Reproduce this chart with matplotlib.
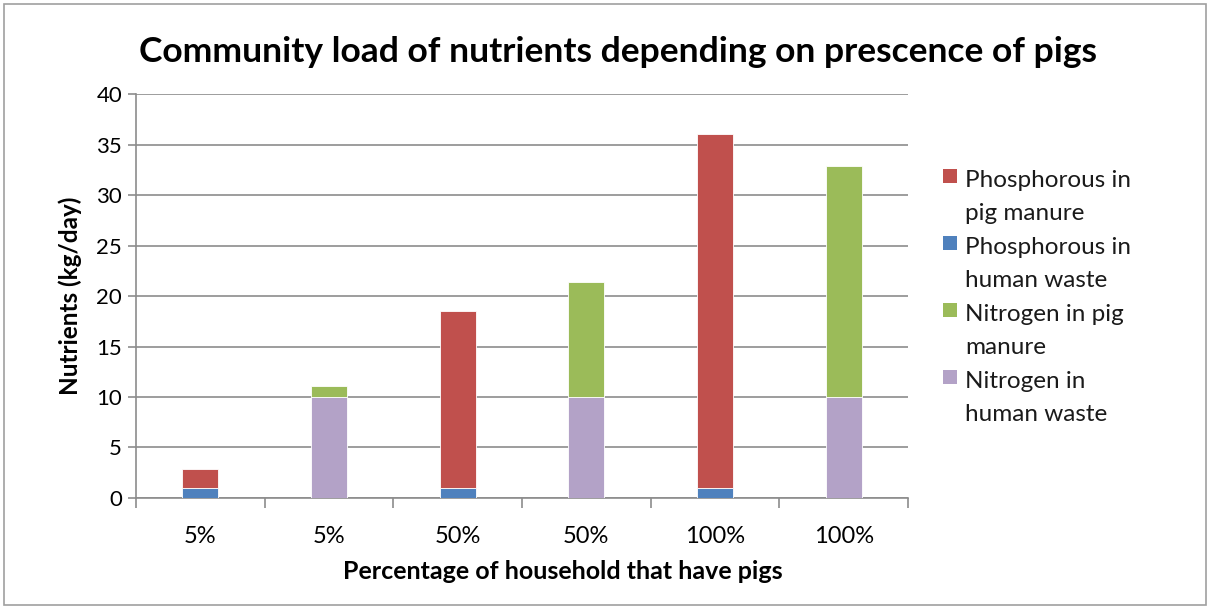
import numpy as np
import matplotlib.pyplot as plt
from matplotlib.patches import Rectangle

plt.rcParams['font.family'] = ['Lato', 'DejaVu Sans']

categories = ['5%', '5%', '50%', '50%', '100%', '100%']
p_pig = [1.85, 0, 17.5, 0, 35.0, 0]
p_human = [1.0, 0, 1.0, 0, 1.0, 0]
n_pig = [0, 1.1, 0, 11.4, 0, 22.9]
n_human = [0, 10.0, 0, 10.0, 0, 10.0]

labels = ['Phosphorous in\npig manure', 'Phosphorous in\nhuman waste',
          'Nitrogen in pig\nmanure', 'Nitrogen in\nhuman waste']
colors = ['#C0504D', '#4F81BD', '#9BBB59', '#B3A2C7']

W, H = 1210, 607
fig = plt.figure(figsize=(W / 100, H / 100), dpi=100)
fig.patches.append(Rectangle((0.003, 0.004), 0.994, 0.99, transform=fig.transFigure,
                             fill=False, edgecolor='#A0A0A0', linewidth=1.2))
ax = fig.add_axes([0.1124, 0.1796, 0.638, 0.6654])

x = np.arange(len(categories))
w = 0.28
kw = dict(width=w, edgecolor='white', linewidth=0.6, zorder=3)
ax.bar(x, p_human, color=colors[1], **kw)
ax.bar(x, p_pig, bottom=p_human, color=colors[0], **kw)
ax.bar(x, n_human, color=colors[3], **kw)
ax.bar(x, n_pig, bottom=n_human, color=colors[2], **kw)

ax.set_ylim(0, 40)
ax.set_xlim(-0.5, len(categories) - 0.5)
ax.set_yticks(np.arange(0, 41, 5))
ax.yaxis.grid(True, color='#8C8C8C', linewidth=1.2, zorder=0)
ax.set_axisbelow(True)

ax.set_xticks(x)
ax.set_xticklabels(categories, fontsize=17)
ax.set_xticks(np.arange(-0.5, len(categories)), minor=True)
ax.tick_params(axis='x', which='major', length=0, pad=20)
ax.tick_params(axis='x', which='minor', length=7, color='#8C8C8C', width=1.2)
ax.tick_params(axis='y', length=6, color='#8C8C8C', width=1.2, labelsize=16, pad=4)

for s in ['top', 'right']:
    ax.spines[s].set_visible(False)
for s in ['left', 'bottom']:
    ax.spines[s].set_color('#8C8C8C')
    ax.spines[s].set_linewidth(1.2)

ax.set_xlabel('Percentage of household that have pigs', fontsize=18,
              fontweight='bold')
ax.xaxis.set_label_coords(0.553, -0.153)
ax.set_ylabel('Nutrients (kg/day)', fontsize=17.5, fontweight='bold', labelpad=10)
fig.suptitle('Community load of nutrients depending on prescence of pigs',
             x=0.511, y=0.94, fontsize=25.5, fontweight='bold')

# legend: square swatch beside the first line of each two-line label
base0, step, line = 186, 67, 34
for i, (lab, c) in enumerate(zip(labels, colors)):
    yb = base0 + i * step
    fig.patches.append(Rectangle((943 / W, 1 - (yb - 3) / H), 14 / W, 14 / H,
                                 transform=fig.transFigure, facecolor=c,
                                 edgecolor='none'))
    fig.text(965 / W, 1 - (yb + line) / H, lab, fontsize=17.5, va='baseline',
             ha='left', linespacing=1.7, color='#1a1a1a')

fig.savefig('out.png', dpi=100)
